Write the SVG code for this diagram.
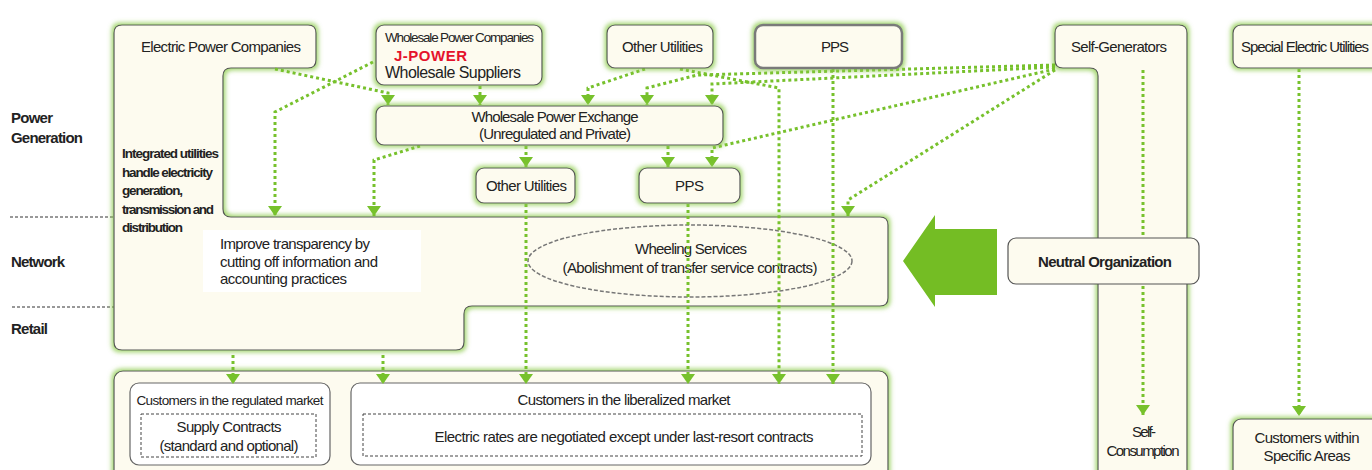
<svg xmlns="http://www.w3.org/2000/svg" width="1372" height="470" viewBox="0 0 1372 470">
<defs>
<style>
.t{font-family:"Liberation Sans Narrow","Liberation Sans",Arial,sans-serif;font-size:15px;fill:#222}
.s{font-size:13.5px}
.b{font-weight:bold}
.c{text-anchor:middle}
.box{fill:#FDFBEF;stroke:#555;stroke-width:1.2}
.wbox{fill:#FFFFFF;stroke:#666;stroke-width:1.2}
.thick{stroke:#7a7a7a;stroke-width:2.5}
.dash{fill:none;stroke:#444;stroke-width:1;stroke-dasharray:3 2}
.sep{fill:none;stroke:#333;stroke-width:1;stroke-dasharray:3 2}
.con{fill:none;stroke:#77C12C;stroke-width:3;stroke-dasharray:3 3;marker-end:url(#ah)}
</style>
<marker id="ah" viewBox="0 0 10 14" refX="10" refY="7" markerWidth="10" markerHeight="14" markerUnits="userSpaceOnUse" orient="auto">
<path d="M0,0 L10,7 L0,14 Z" fill="#77C12C"/>
</marker>
<filter id="glow" x="-10%" y="-20%" width="120%" height="140%">
<feMorphology in="SourceAlpha" operator="dilate" radius="1.5" result="d"/>
<feGaussianBlur in="d" stdDeviation="2" result="bl"/>
<feFlood flood-color="#8CCB4A" flood-opacity="0.75"/>
<feComposite in2="bl" operator="in" result="g"/>
<feMerge><feMergeNode in="g"/><feMergeNode in="SourceGraphic"/></feMerge>
</filter>
</defs>
<rect width="1372" height="470" fill="#FFFFFF"/>

<g id="labels">
<text class="t b" x="11" y="123" textLength="42">Power</text>
<text class="t b" x="11" y="143" textLength="72">Generation</text>
<text class="t b" x="11" y="267" textLength="54">Network</text>
<text class="t b" x="11" y="334" textLength="37">Retail</text>
<path class="sep" d="M10,217 H222"/>
<path class="sep" d="M12,307 H464"/>
</g>

<g id="electric-power-companies">
<path class="box" filter="url(#glow)" d="M122,25 H308 Q316,25 316,33 V60 Q316,68 308,68 H231 Q223,68 223,76 V209 Q223,217 231,217 H880 Q888,217 888,225 V298 Q888,306 880,306 H472 Q464,306 464,314 V342 Q464,350 456,350 H122 Q114,350 114,342 V33 Q114,25 122,25 Z"/>
<text class="t" x="141" y="52" textLength="160">Electric Power Companies</text>
<text class="t b s" x="122" y="158" textLength="97">Integrated utilities</text>
<text class="t b s" x="122" y="177" textLength="91">handle electricity</text>
<text class="t b s" x="122" y="195" textLength="61">generation,</text>
<text class="t b s" x="122" y="214" textLength="92">transmission and</text>
<text class="t b s" x="122" y="232" textLength="61">distribution</text>
<rect x="203" y="230" width="218" height="62" fill="#FFFFFF"/>
<text class="t" x="220" y="249" textLength="150">Improve transparency by</text>
<text class="t" x="220" y="267" textLength="158">cutting off information and</text>
<text class="t" x="220" y="284" textLength="127">accounting practices</text>
</g>

<g id="wheeling-services">
<ellipse cx="690" cy="261" rx="162" ry="36" fill="none" stroke="#777" stroke-width="1.5" stroke-dasharray="4 2"/>
<text class="t c" x="691" y="254" textLength="112">Wheeling Services</text>
<text class="t c" x="690" y="273" textLength="255">(Abolishment of transfer service contracts)</text>
</g>

<g id="customers">
<rect class="box" filter="url(#glow)" x="114" y="371" width="774" height="112" rx="9"/>
<g id="regulated-market">
<rect class="wbox" x="130" y="383" width="200" height="82" rx="9"/>
<text class="t s c" x="230" y="405" textLength="187">Customers in the regulated market</text>
<rect class="dash" x="141" y="414" width="175" height="43"/>
<text class="t c" x="229" y="432" textLength="105">Supply Contracts</text>
<text class="t c" x="229" y="451" textLength="139">(standard and optional)</text>
</g>
<g id="liberalized-market">
<rect class="wbox" x="351" y="383" width="520" height="82" rx="9"/>
<text class="t c" x="624" y="405" textLength="213">Customers in the liberalized market</text>
<rect class="dash" x="363" y="414" width="499" height="42"/>
<text class="t c" x="624" y="442" textLength="379">Electric rates are negotiated except under last-resort contracts</text>
</g>
</g>

<g id="self-generators">
<path class="box" filter="url(#glow)" d="M1063,25 H1179 Q1187,25 1187,33 V480 H1098 V76 Q1098,68 1090,68 H1063 Q1055,68 1055,60 V33 Q1055,25 1063,25 Z"/>
<text class="t" x="1071" y="52" textLength="96">Self-Generators</text>
<text class="t c" x="1144" y="437" textLength="24">Self-</text>
<text class="t c" x="1143" y="456" textLength="73">Consumption</text>
</g>

<g id="connectors">
<path class="con" d="M275,69 L388,93 V105"/>
<path class="con" d="M373,62 L275,112 V216"/>
<path class="con" d="M480,86 V105"/>
<path class="con" d="M420,146 L374,160 V216"/>
<path class="con" d="M526,146 V167"/>
<path class="con" d="M668,146 V167"/>
<path class="con" d="M645,69 L588,88 V105"/>
<path class="con" d="M1055,65 L697,75 L647,88 V105"/>
<path class="con" d="M1055,67 L712,84 V105"/>
<path class="con" d="M1055,69 L712,148 V167"/>
<path class="con" d="M1055,70 L848,200 V216"/>
<path class="con" d="M680,69 L779,88 V384"/>
<path class="con" d="M833,69 V384"/>
<path class="con" d="M526,204 V384"/>
<path class="con" d="M688,204 V384"/>
<path class="con" d="M233,355 V384"/>
<path class="con" d="M383,355 V384"/>
<path class="con" d="M1143,70 V415"/>
<path class="con" d="M1299,69 V416"/>
</g>

<g id="wholesale-power-companies">
<rect class="box" filter="url(#glow)" x="376" y="25" width="166" height="60" rx="8"/>
<text class="t s" x="385" y="42" textLength="149">Wholesale Power Companies</text>
<text class="t b" x="394" y="61" textLength="73" fill="#E5132C" style="fill:#E5132C">J-POWER</text>
<text class="t" x="385" y="78" textLength="136" style="font-size:16px">Wholesale Suppliers</text>
</g>

<g id="wholesale-power-exchange">
<rect class="box" filter="url(#glow)" x="376" y="106" width="347" height="39" rx="8"/>
<text class="t c" x="555" y="122" textLength="167">Wholesale Power Exchange</text>
<text class="t c" x="555" y="139" textLength="152">(Unregulated and Private)</text>
</g>

<g id="other-utilities-top">
<rect class="box" filter="url(#glow)" x="607" y="25" width="106" height="43" rx="8"/>
<text class="t" x="622" y="52" textLength="81">Other Utilities</text>
</g>

<g id="pps-top">
<rect class="box thick" filter="url(#glow)" x="755" y="25" width="147" height="43" rx="8"/>
<text class="t c" x="835" y="52" textLength="28">PPS</text>
</g>

<g id="other-utilities-mid">
<rect class="box" filter="url(#glow)" x="476" y="168" width="99" height="35" rx="8"/>
<text class="t" x="486" y="191" textLength="81">Other Utilities</text>
</g>

<g id="pps-mid">
<rect class="box" filter="url(#glow)" x="639" y="168" width="101" height="35" rx="8"/>
<text class="t" x="675" y="191" textLength="29">PPS</text>
</g>

<g id="special-electric-utilities">
<rect class="box" filter="url(#glow)" x="1233" y="25" width="150" height="43" rx="8"/>
<text class="t" x="1241" y="52" textLength="128">Special Electric Utilities</text>
</g>

<g id="customers-specific-areas">
<rect class="box" filter="url(#glow)" x="1233" y="419" width="150" height="70" rx="8"/>
<text class="t c" x="1307" y="443" textLength="105">Customers within</text>
<text class="t c" x="1307" y="461" textLength="87">Specific Areas</text>
</g>

<g id="neutral-organization">
<rect class="box" x="1008" y="238" width="191" height="46" rx="8"/>
<text class="t b c" x="1105" y="267" textLength="134">Neutral Organization</text>
</g>

<g id="big-arrow">
<polygon points="903,261 935,215 935,229 997,229 997,295 935,295 935,307" fill="#74BD24"/>
</g>
</svg>
